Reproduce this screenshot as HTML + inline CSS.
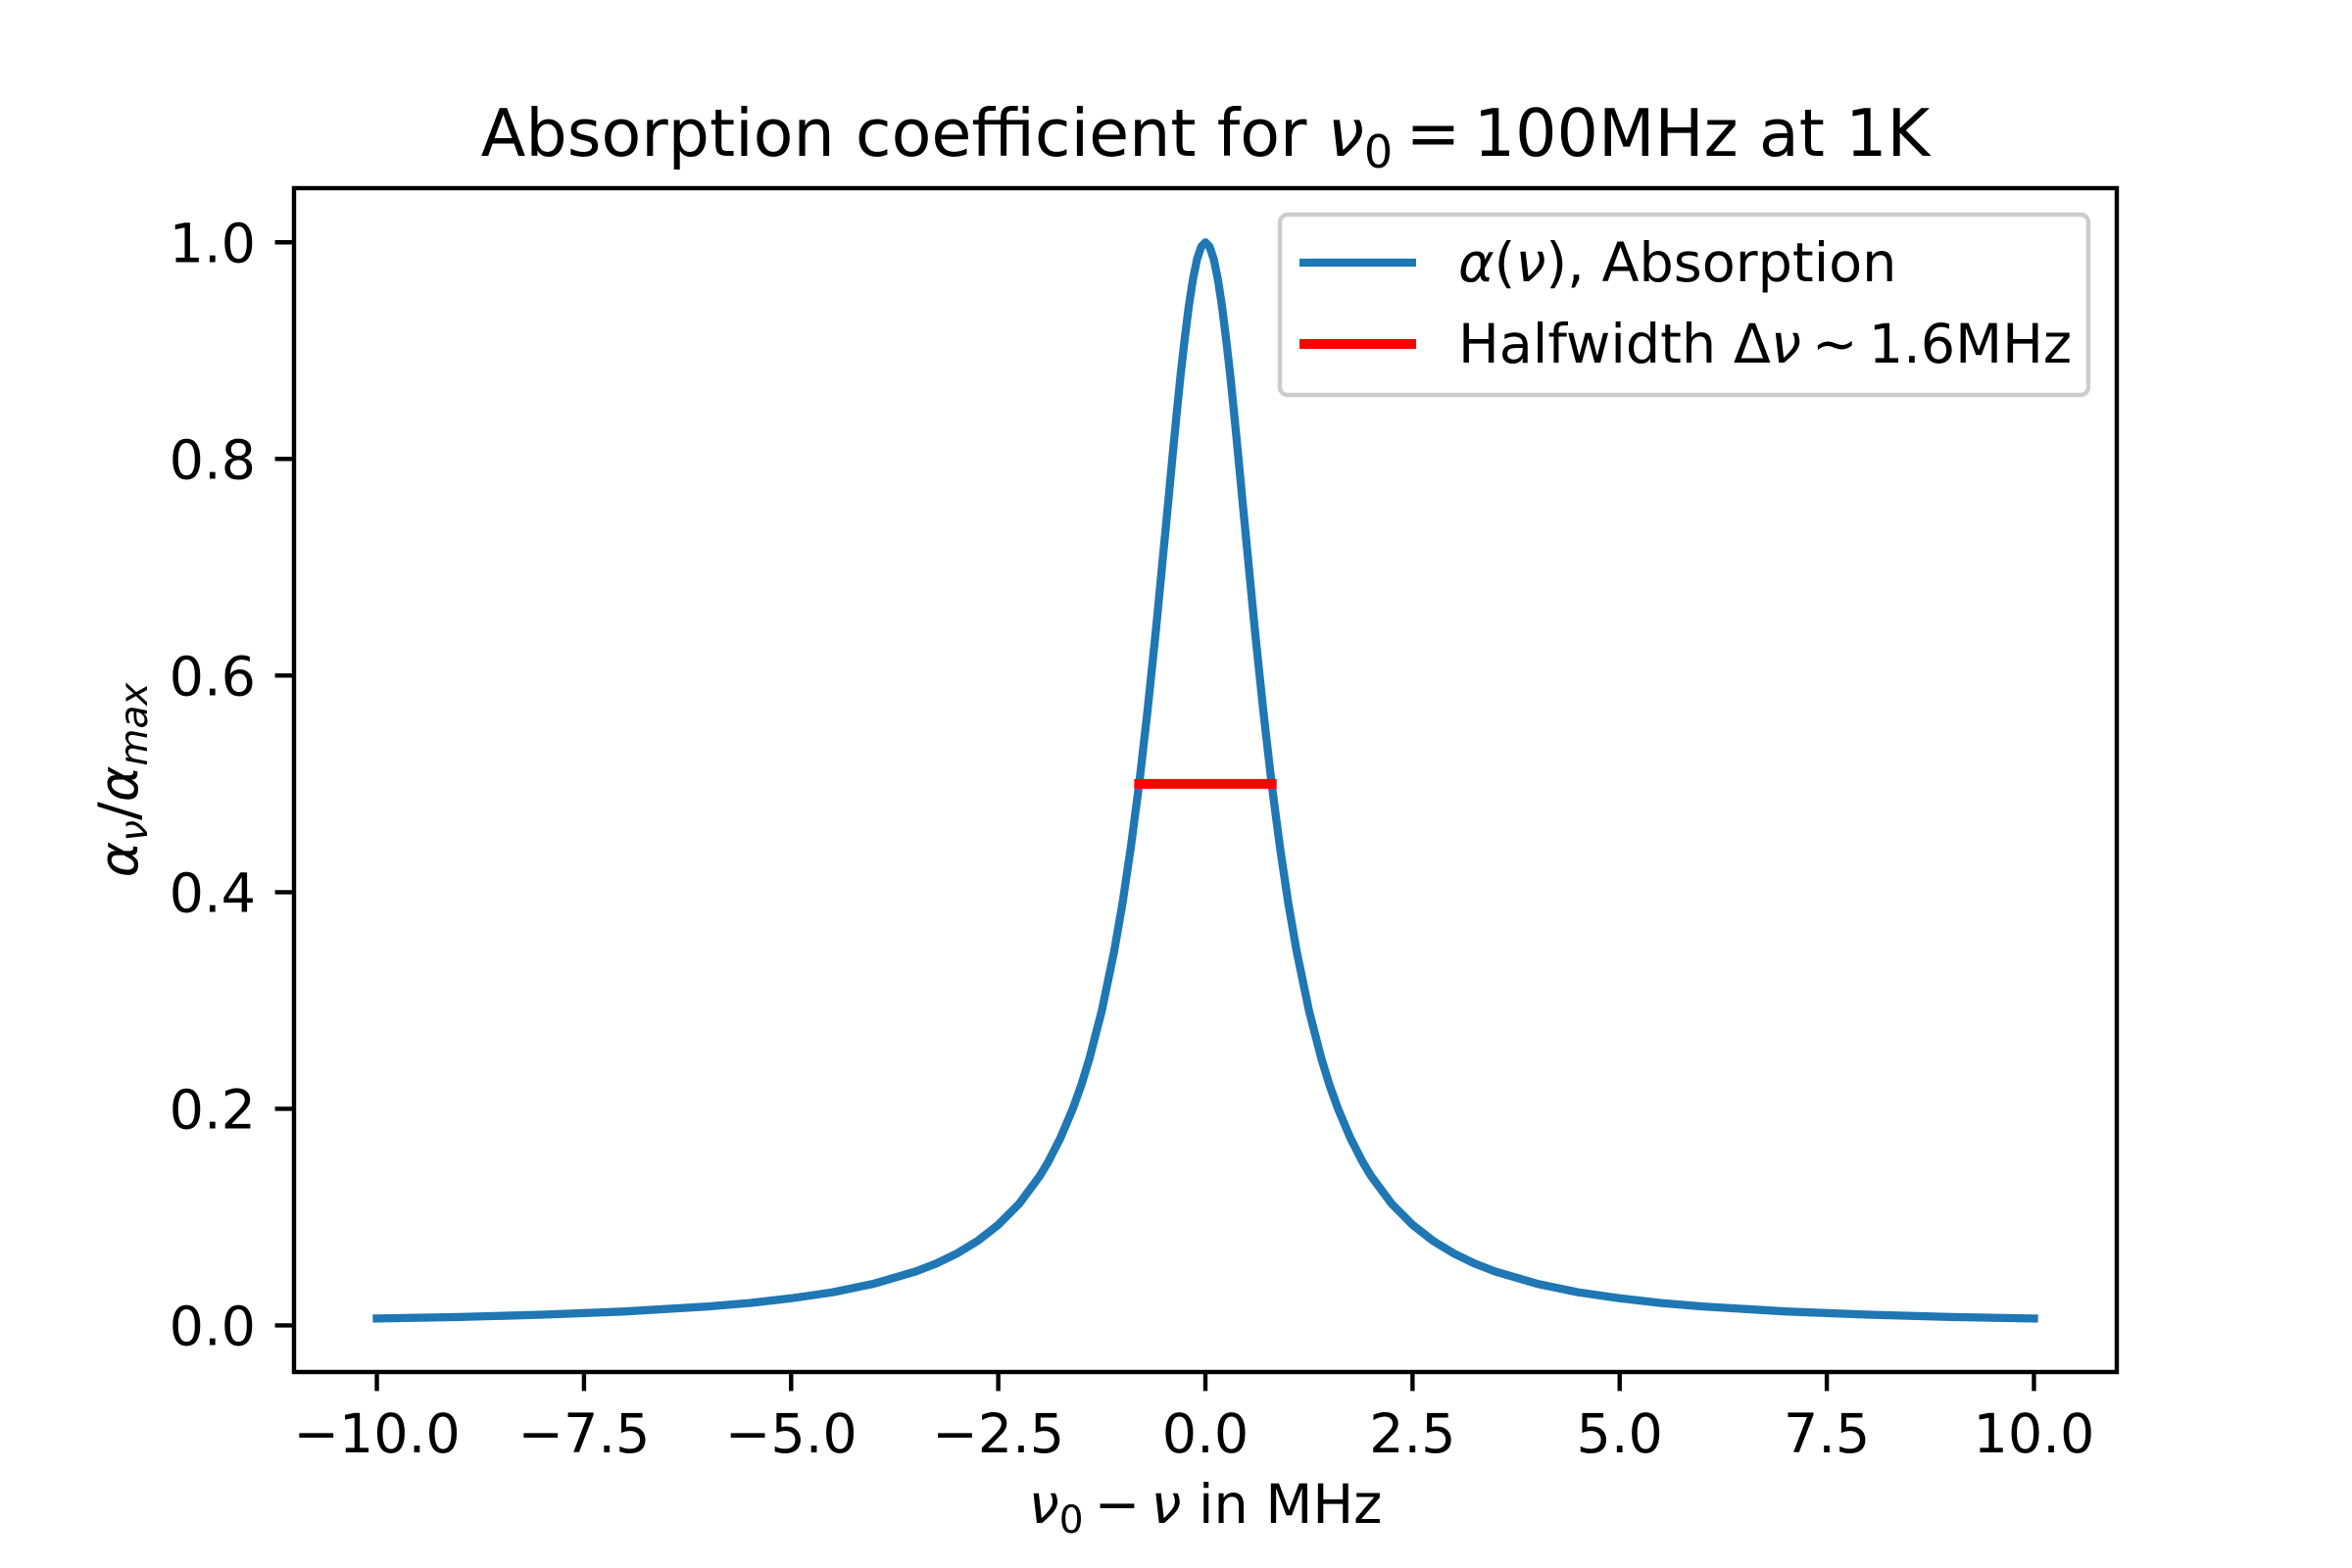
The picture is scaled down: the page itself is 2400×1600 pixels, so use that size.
<!DOCTYPE html>
<html><head><meta charset="utf-8"><style>body{margin:0;background:#fff}svg{display:block}text{font-family:"DejaVu Sans","Liberation Sans",sans-serif;fill:#000}</style></head>
<body>
<svg id="chart" width="2400" height="1600" viewBox="0 0 2400 1600" xmlns="http://www.w3.org/2000/svg">
<rect width="2400" height="1600" fill="#fff"/>
<text x="1230" y="159" font-size="66.7" text-anchor="middle">Absorption coefficient for <tspan font-style="italic">ν</tspan><tspan font-size="46" dy="12">0</tspan><tspan dy="-12">&#8201;=&#8201;100MHz at 1K</tspan></text>
<g id="plot"></g>
<rect x="300" y="192" width="1860" height="1208" fill="none" stroke="#000" stroke-width="4.4"/>
<g id="xticks"></g>
<g id="yticks"></g>
<text x="1230" y="1554" font-size="55.6" text-anchor="middle"><tspan font-style="italic">ν</tspan><tspan font-size="39" dy="10">0</tspan><tspan dy="-10">&#8201;−&#8201;</tspan><tspan font-style="italic">ν</tspan> in MHz</text>
<text transform="translate(140,796) rotate(-90)" font-size="55.6" text-anchor="middle"><tspan font-style="italic">α</tspan><tspan font-size="39" font-style="italic" dy="10">ν</tspan><tspan dy="-10">/</tspan><tspan font-style="italic">α</tspan><tspan font-size="39" font-style="italic" dy="10">max</tspan></text>
<g>
<rect x="1306" y="219" width="825" height="184" rx="8" fill="#fff" fill-opacity="0.8" stroke="#ccc" stroke-width="4.4"/>
<line x1="1326" y1="268" x2="1445" y2="268" stroke="#1f77b4" stroke-width="8.3"/>
<text x="1488" y="287" font-size="55.6"><tspan font-style="italic">α</tspan>(<tspan font-style="italic">ν</tspan>), Absorption</text>
<line x1="1326" y1="351" x2="1445" y2="351" stroke="#ff0000" stroke-width="10"/>
<text x="1488" y="370" font-size="55.6">Halfwidth Δ<tspan font-style="italic">ν</tspan>&#8201;~&#8201;1.6MHz</text>
</g>
</svg>
<script>
const xValues=[-10,-9,-8,-7,-6,-5.5,-5,-4.5,-4,-3.5,-3.25,-3,-2.75,-2.5,-2.25,-2,-1.9,-1.75,-1.6,-1.5,-1.4,-1.25,-1.1,-1,-0.9,-0.8,-0.7,-0.6,-0.5,-0.45,-0.4,-0.35,-0.3,-0.25,-0.2,-0.15,-0.1,-0.05,0,0.05,0.1,0.15,0.2,0.25,0.3,0.35,0.4,0.45,0.5,0.6,0.7,0.8,0.9,1,1.1,1.25,1.4,1.5,1.6,1.75,1.9,2,2.25,2.5,2.75,3,3.25,3.5,4,4.5,5,5.5,6,7,8,9,10];
const absorption=[0.0064,0.0078,0.0099,0.0129,0.0175,0.0207,0.0250,0.0306,0.0385,0.0497,0.0571,0.0664,0.0780,0.0929,0.1122,0.1379,0.1506,0.1729,0.2,0.2215,0.2462,0.2906,0.346,0.3902,0.4414,0.5,0.5664,0.64,0.7191,0.7596,0.8,0.8393,0.8767,0.911,0.9412,0.966,0.9846,0.9961,1,0.9961,0.9846,0.966,0.9412,0.911,0.8767,0.8393,0.8,0.7596,0.7191,0.64,0.5664,0.5,0.4414,0.3902,0.346,0.2906,0.2462,0.2215,0.2,0.1729,0.1506,0.1379,0.1122,0.0929,0.0780,0.0664,0.0571,0.0497,0.0385,0.0306,0.0250,0.0207,0.0175,0.0129,0.0099,0.0078,0.0064];
const halfwidthX=[-0.8,0.8];
const halfwidthY=[0.5,0.5];
const xTicks=[-10,-7.5,-5,-2.5,0,2.5,5,7.5,10];
const xTickLabels=["−10.0","−7.5","−5.0","−2.5","0.0","2.5","5.0","7.5","10.0"];
const yTicks=[0,0.2,0.4,0.6,0.8,1.0];
const yTickLabels=["0.0","0.2","0.4","0.6","0.8","1.0"];
const NS="http://www.w3.org/2000/svg";
const X0=300,X1=2160,Y0=1400,Y1=192,xmin=-11,xmax=11,ymin=-0.043,ymax=1.05;
function sx(v){return X0+(v-xmin)/(xmax-xmin)*(X1-X0);}
function sy(v){return Y0-(v-ymin)/(ymax-ymin)*(Y0-Y1);}
function mk(tag,attrs,parent){const e=document.createElementNS(NS,tag);for(const k in attrs)e.setAttribute(k,attrs[k]);parent.appendChild(e);return e;}
const plot=document.getElementById('plot');
const pts=xValues.map((x,i)=>sx(x).toFixed(1)+','+sy(absorption[i]).toFixed(1)).join(' ');
const line=mk('polyline',{points:pts,fill:'none',stroke:'#1f77b4','stroke-width':8.3,'stroke-linejoin':'round','stroke-linecap':'square'},plot);


const hw=mk('line',{x1:sx(halfwidthX[0]),y1:sy(halfwidthY[0]),x2:sx(halfwidthX[1]),y2:sy(halfwidthY[1]),stroke:'#ff0000','stroke-width':10,'stroke-linecap':'square'},plot);


const xg=document.getElementById('xticks');
xTicks.forEach((t,i)=>{
  const tk=mk('line',{x1:sx(t),y1:Y0,x2:sx(t),y2:Y0+19.4,stroke:'#000','stroke-width':4.4},xg);
  
  
  const lb=mk('text',{x:sx(t),y:1482,'font-size':55.6,'text-anchor':'middle'},xg);
  lb.textContent=xTickLabels[i];
  
  
});
const yg=document.getElementById('yticks');
yTicks.forEach((t,i)=>{
  const tk=mk('line',{x1:X0-19.4,y1:sy(t),x2:X0,y2:sy(t),stroke:'#000','stroke-width':4.4},yg);
  
  
  const lb=mk('text',{x:261,y:sy(t)+20,'font-size':55.6,'text-anchor':'end'},yg);
  lb.textContent=yTickLabels[i];
  
  
});
</script>
</body></html>
